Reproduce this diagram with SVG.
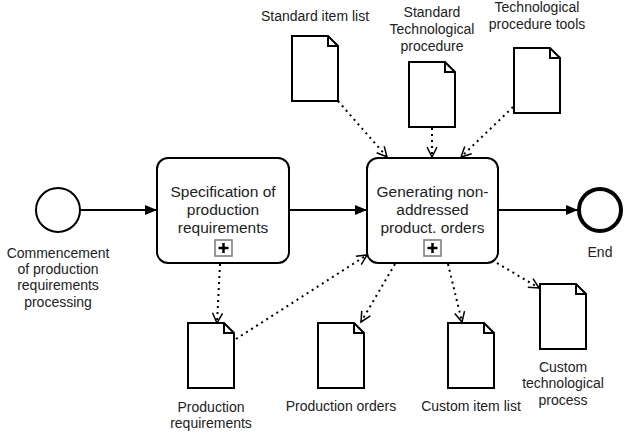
<svg xmlns="http://www.w3.org/2000/svg" width="626" height="432" viewBox="0 0 626 432">
  <style>
    .lbl { font-family: "Liberation Sans", Arial, Helvetica, sans-serif; font-size: 14px; fill: #222; text-anchor: middle; }
    .tlbl { font-family: "Liberation Sans", Arial, Helvetica, sans-serif; font-size: 15.5px; fill: #222; text-anchor: middle; }
    .task { fill: #fff; stroke: #000; stroke-width: 2; }
    .doc { fill: #fff; stroke: #000; stroke-width: 2; stroke-linejoin: miter; }
    .fold { fill: none; stroke: #000; stroke-width: 2; }
    .flow { fill: none; stroke: #000; stroke-width: 2; }
    .assoc { fill: none; stroke: #000; stroke-width: 2; stroke-dasharray: 2 4; }
    .subbox { fill: #fff; stroke: #777; stroke-width: 1.5; }
    .plus { stroke: #000; stroke-width: 2.5; }
  </style>
  <defs>
    <marker id="block" markerUnits="userSpaceOnUse" markerWidth="14" markerHeight="12" refX="12" refY="5" orient="auto">
      <path d="M0,0 L12,5 L0,10 Z" fill="#000"/>
    </marker>
    <marker id="open" markerUnits="userSpaceOnUse" markerWidth="14" markerHeight="14" refX="11" refY="6" orient="auto">
      <path d="M1,1 L11,6 L1,11" fill="none" stroke="#000" stroke-width="1.5"/>
    </marker>
    <g id="docshape">
      <path class="doc" d="M0,0 H36 L46,10 V65 H0 Z"/>
      <path class="fold" d="M36,0 V10 H46"/>
    </g>
  </defs>

  <rect width="626" height="432" fill="#fff"/>

  <!-- sequence flows and data associations -->
  <g id="connectors">
    <line class="flow" x1="80" y1="210" x2="157" y2="210" marker-end="url(#block)"/>
    <line class="flow" x1="289" y1="210" x2="367" y2="210" marker-end="url(#block)"/>
    <line class="flow" x1="498" y1="210" x2="578" y2="210" marker-end="url(#block)"/>

    <line class="assoc" x1="338" y1="101" x2="387" y2="157" marker-end="url(#open)"/>
    <line class="assoc" x1="432" y1="128" x2="432" y2="157" marker-end="url(#open)"/>
    <line class="assoc" x1="513" y1="107" x2="461" y2="157" marker-end="url(#open)"/>
    <line class="assoc" x1="220" y1="264" x2="217" y2="323" marker-end="url(#open)"/>
    <line class="assoc" x1="236" y1="339" x2="367" y2="255" marker-end="url(#open)"/>
    <line class="assoc" x1="395" y1="264" x2="361" y2="322" marker-end="url(#open)"/>
    <line class="assoc" x1="448" y1="264" x2="462" y2="322" marker-end="url(#open)"/>
    <line class="assoc" x1="497" y1="263" x2="539" y2="288" marker-end="url(#open)"/>
  </g>

  <!-- start event -->
  <g id="start">
    <circle cx="58" cy="210" r="22" fill="#fff" stroke="#000" stroke-width="2"/>
    <text class="lbl" x="58" y="258">Commencement</text>
    <text class="lbl" x="58" y="274">of production</text>
    <text class="lbl" x="58" y="290">requirements</text>
    <text class="lbl" x="58" y="307">processing</text>
  </g>

  <!-- sub-process: specification -->
  <g id="task-spec">
    <rect class="task" x="157" y="158" width="132" height="105" rx="11"/>
    <text class="tlbl" x="223" y="197">Specification of</text>
    <text class="tlbl" x="223" y="215">production</text>
    <text class="tlbl" x="223" y="233">requirements</text>
    <rect class="subbox" x="215" y="240" width="17" height="16"/>
    <path class="plus" d="M223.5,243 V253 M218.5,248 H228.5"/>
  </g>

  <!-- sub-process: generating orders -->
  <g id="task-gen">
    <rect class="task" x="367" y="158" width="131" height="105" rx="11"/>
    <text class="tlbl" x="432.5" y="197">Generating non-</text>
    <text class="tlbl" x="432.5" y="215">addressed</text>
    <text class="tlbl" x="432.5" y="233">product. orders</text>
    <rect class="subbox" x="424" y="240" width="17" height="16"/>
    <path class="plus" d="M432.5,243 V253 M427.5,248 H437.5"/>
  </g>

  <!-- end event -->
  <g id="end">
    <circle cx="600" cy="210" r="21" fill="#fff" stroke="#000" stroke-width="4"/>
    <text class="lbl" x="600" y="257">End</text>
  </g>

  <!-- data objects -->
  <g id="doc-std-items">
    <use href="#docshape" x="292" y="36"/>
    <text class="lbl" x="315" y="21">Standard item list</text>
  </g>
  <g id="doc-std-proc">
    <use href="#docshape" x="409" y="62"/>
    <text class="lbl" x="432" y="17">Standard</text>
    <text class="lbl" x="432" y="34">Technological</text>
    <text class="lbl" x="432" y="51">procedure</text>
  </g>
  <g id="doc-proc-tools">
    <use href="#docshape" x="514" y="48"/>
    <text class="lbl" x="537" y="12">Technological</text>
    <text class="lbl" x="537" y="29">procedure tools</text>
  </g>
  <g id="doc-prod-req">
    <use href="#docshape" x="188" y="323"/>
    <text class="lbl" x="211" y="412">Production</text>
    <text class="lbl" x="211" y="428">requirements</text>
  </g>
  <g id="doc-prod-orders">
    <use href="#docshape" x="318" y="323"/>
    <text class="lbl" x="341" y="411">Production orders</text>
  </g>
  <g id="doc-custom-items">
    <use href="#docshape" x="448" y="323"/>
    <text class="lbl" x="471" y="411">Custom item list</text>
  </g>
  <g id="doc-custom-proc">
    <use href="#docshape" x="540" y="284"/>
    <text class="lbl" x="563" y="372">Custom</text>
    <text class="lbl" x="563" y="388">technological</text>
    <text class="lbl" x="563" y="405">process</text>
  </g>
</svg>
